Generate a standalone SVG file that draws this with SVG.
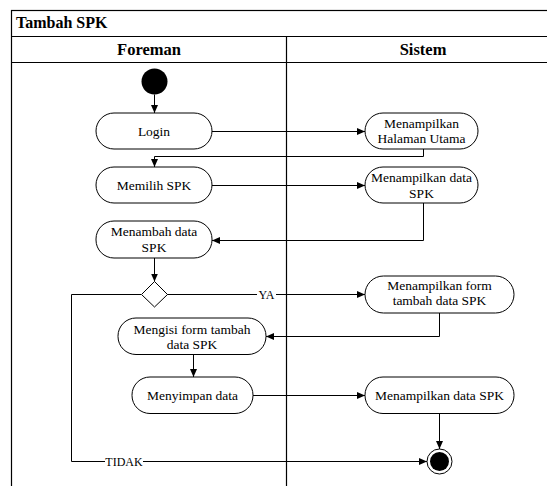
<svg xmlns="http://www.w3.org/2000/svg" width="547" height="486" viewBox="0 0 547 486" font-family="'Liberation Serif', 'DejaVu Serif', serif">
  <style>
    .frame { fill: none; stroke: #000; stroke-width: 1.2; }
    .title { font-weight: bold; fill: #000; }
    .act rect { fill: #fff; stroke: #000; stroke-width: 1; }
    .act text { font-size: 13.5px; fill: #000; text-anchor: middle; }
    .edge { fill: none; stroke: #000; stroke-width: 1; marker-end: url(#arrow); }
    .lbl { font-size: 12px; fill: #000; text-anchor: middle; }
    .lblbg { fill: #fff; }
  </style>
  <defs>
    <marker id="arrow" viewBox="0 0 8 8" refX="8" refY="4" markerWidth="8" markerHeight="8" markerUnits="userSpaceOnUse" orient="auto">
      <path d="M0,0.5 L8,4 L0,7.5 Z" fill="#000"/>
    </marker>
  </defs>

  <rect width="547" height="486" fill="#fff"/>

  <!-- swimlane pool -->
  <g id="pool">
    <rect class="frame" x="11.5" y="10.5" width="549" height="490"/>
    <line class="frame" x1="11.5" y1="36.5" x2="560.5" y2="36.5"/>
    <line class="frame" x1="11.5" y1="62.5" x2="560.5" y2="62.5"/>
    <line class="frame" x1="286.5" y1="36.5" x2="286.5" y2="500"/>
    <text class="title" x="16" y="28" font-size="16">Tambah SPK</text>
    <text class="title" x="149" y="55" font-size="16.5" text-anchor="middle">Foreman</text>
    <text class="title" x="423" y="55" font-size="16.5" text-anchor="middle">Sistem</text>
  </g>

  <!-- connectors -->
  <g id="connectors">
    <path class="edge" d="M154.5,94.5 V113"/>
    <path class="edge" d="M212,131.5 H365"/>
    <path class="edge" d="M423.5,149 V156.5 H154.5 V167"/>
    <path class="edge" d="M212,185.5 H365"/>
    <path class="edge" d="M423.5,203 V240.5 H212"/>
    <path class="edge" d="M154.5,258 V281.5"/>
    <path class="edge" d="M167,294.5 H365"/>
    <path class="edge" d="M439.5,313 V336.5 H266"/>
    <path class="edge" d="M193.5,354.5 V377"/>
    <path class="edge" d="M253,395.5 H365"/>
    <path class="edge" d="M439.5,413 V449"/>
    <path class="edge" d="M141,294.5 H71.5 V461.5 H427"/>
    <rect class="lblbg" x="257" y="288" width="19" height="12"/>
    <text class="lbl" x="266.5" y="298.5">YA</text>
    <rect class="lblbg" x="105" y="455" width="38" height="12"/>
    <text class="lbl" x="124" y="466">TIDAK</text>
  </g>

  <!-- start node -->
  <g id="start">
    <circle cx="154.5" cy="81.5" r="13" fill="#000"/>
  </g>

  <g id="login" class="act">
    <rect x="96" y="113" width="116" height="36" rx="18"/>
    <text x="154" y="135.5">Login</text>
  </g>
  <g id="halaman-utama" class="act">
    <rect x="365" y="113" width="113" height="36" rx="18"/>
    <text x="421.5" y="127.5">Menampilkan</text>
    <text x="421.5" y="143">Halaman Utama</text>
  </g>
  <g id="memilih-spk" class="act">
    <rect x="96" y="167" width="116" height="36" rx="18"/>
    <text x="154" y="189.5">Memilih SPK</text>
  </g>
  <g id="tampil-data-spk" class="act">
    <rect x="365" y="167" width="113" height="36" rx="18"/>
    <text x="421.5" y="181.5">Menampilkan data</text>
    <text x="421.5" y="197.5">SPK</text>
  </g>
  <g id="menambah-data" class="act">
    <rect x="96" y="221" width="116" height="37" rx="18"/>
    <text x="154" y="235.5">Menambah data</text>
    <text x="154" y="251.5">SPK</text>
  </g>

  <!-- decision -->
  <g id="decision">
    <path d="M154.5,281.5 L167.5,294.5 L154.5,307 L141.5,294.5 Z" fill="#fff" stroke="#000" stroke-width="1"/>
  </g>

  <g id="tampil-form" class="act">
    <rect x="365" y="276" width="149" height="37" rx="18.5"/>
    <text x="439.5" y="289.5">Menampilkan form</text>
    <text x="439.5" y="305">tambah data SPK</text>
  </g>
  <g id="mengisi-form" class="act">
    <rect x="118" y="318" width="148" height="36.5" rx="18"/>
    <text x="192" y="333.5">Mengisi form tambah</text>
    <text x="192" y="348.5">data SPK</text>
  </g>
  <g id="menyimpan" class="act">
    <rect x="132" y="377" width="121" height="36.5" rx="18"/>
    <text x="192.5" y="400">Menyimpan data</text>
  </g>
  <g id="tampil-data-spk-2" class="act">
    <rect x="365" y="377" width="149" height="36.5" rx="18"/>
    <text x="439.5" y="400">Menampilkan data SPK</text>
  </g>

  <!-- final node -->
  <g id="end">
    <circle cx="439.5" cy="461.5" r="12.5" fill="#fff" stroke="#000" stroke-width="1"/>
    <circle cx="439.5" cy="461.5" r="9.5" fill="#000"/>
  </g>
</svg>
